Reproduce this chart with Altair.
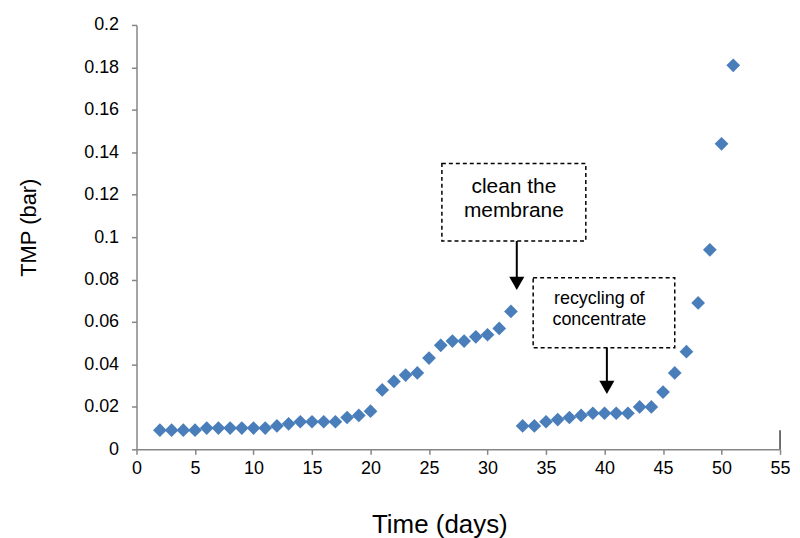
import altair as alt
import pandas as pd

days = list(range(2, 52))
tmp = [0.009, 0.009, 0.009, 0.009, 0.010, 0.010, 0.010, 0.010, 0.010, 0.010,
       0.011, 0.012, 0.013, 0.013, 0.013, 0.013, 0.015, 0.016, 0.018, 0.028,
       0.032, 0.035, 0.036, 0.043, 0.049, 0.051, 0.051, 0.053, 0.054, 0.057,
       0.065, 0.011, 0.011, 0.013, 0.014, 0.015, 0.016, 0.017, 0.017, 0.017,
       0.017, 0.020, 0.020, 0.027, 0.036, 0.046, 0.069, 0.094, 0.144, 0.181]

# annotation boxes (data units)
box_x1 = [26.1, 33.9]
box_x2 = [38.4, 46.0]
box_y1 = [0.0982, 0.0479]
box_y2 = [0.1347, 0.0809]

# annotation texts
txt_x = [32.25, 32.25, 39.55, 39.55]
txt_y = [0.1235, 0.1122, 0.0707, 0.0609]
txt_s = ["clean the", "membrane", "recycling of", "concentrate"]
txt_grp = ["a", "a", "b", "b"]

# arrows
arr_x = [32.5, 40.2]
arr_y1 = [0.0982, 0.0479]
arr_y2 = [0.080, 0.031]
head_y = [0.0782, 0.0292]

# small right-edge mark at x = 55
edge_x = [55]
edge_y1 = [0.0]
edge_y2 = [0.009]

df = pd.DataFrame({"day": days, "tmp": tmp})
boxes = pd.DataFrame({"x1": box_x1, "x2": box_x2, "y1": box_y1, "y2": box_y2})
texts = pd.DataFrame({"x": txt_x, "y": txt_y, "t": txt_s, "g": txt_grp})
arrows = pd.DataFrame({"x": arr_x, "y1": arr_y1, "y2": arr_y2, "hy": head_y})
edge = pd.DataFrame({"x": edge_x, "y1": edge_y1, "y2": edge_y2})

xs = alt.Scale(domain=[0, 55], nice=False, zero=False)
ys = alt.Scale(domain=[0, 0.2], nice=False)

xaxis = alt.Axis(values=list(range(0, 56, 5)), title="Time (days)", grid=False,
                 labelFontSize=18, labelPadding=5, tickSize=5, labelFlush=False,
                 titleFontSize=26, titleFontWeight="normal",
                 titleX=304, titleY=75, titleBaseline="middle")
yaxis = alt.Axis(values=[round(i * 0.02, 2) for i in range(11)], title="TMP (bar)",
                 grid=False, labelFontSize=18, labelPadding=13, tickSize=5,
                 labelFlush=False,
                 labelExpr="datum.value == 0 ? '0' : replace(format(datum.value, '.2~f'), /^0?/, '0')",
                 titleFontSize=22, titleFontWeight="normal",
                 titleAngle=270, titleX=-108, titleY=203,
                 titleAlign="center", titleBaseline="middle")

points = alt.Chart(df).mark_point(shape="diamond", filled=True, size=190,
                                  color="#4A7EBB", opacity=1).encode(
    x=alt.X("day:Q", scale=xs, axis=xaxis),
    y=alt.Y("tmp:Q", scale=ys, axis=yaxis),
)

rects = alt.Chart(boxes).mark_rect(fill="white", stroke="black", strokeWidth=1.5,
                                   strokeDash=[4, 3]).encode(
    x="x1:Q", x2="x2:Q", y="y1:Q", y2="y2:Q")

text_a = alt.Chart(texts).transform_filter("datum.g == 'a'").mark_text(
    fontSize=21, font="Liberation Sans", color="black", align="center",
    baseline="middle").encode(x="x:Q", y="y:Q", text="t:N")
text_b = alt.Chart(texts).transform_filter("datum.g == 'b'").mark_text(
    fontSize=18, font="Liberation Sans", color="black", align="center",
    baseline="middle").encode(x="x:Q", y="y:Q", text="t:N")

shafts = alt.Chart(arrows).mark_rule(color="black", strokeWidth=2).encode(
    x="x:Q", y="y1:Q", y2="y2:Q")
heads = alt.Chart(arrows).mark_point(shape="triangle-down", filled=True, size=230,
                                     color="black", opacity=1).encode(
    x="x:Q", y="hy:Q")

edge_rule = alt.Chart(edge).mark_rule(color="#404040", strokeWidth=1.5).encode(
    x="x:Q", y="y1:Q", y2="y2:Q")

chart = alt.layer(points, rects, text_a, text_b, shafts, heads, edge_rule).properties(
    width=646, height=426,
    autosize=alt.AutoSizeParams(type="none"),
    padding={"left": 129, "top": 16, "right": 12, "bottom": 88},
).configure_view(stroke=None).configure_axis(
    domainColor="#868686", domainWidth=1.5, tickColor="#868686", tickWidth=1.5,
    labelColor="black", titleColor="black", labelFont="Liberation Sans",
    titleFont="Liberation Sans")

chart.save("out.html", embed_options={"renderer": "svg", "actions": False})
